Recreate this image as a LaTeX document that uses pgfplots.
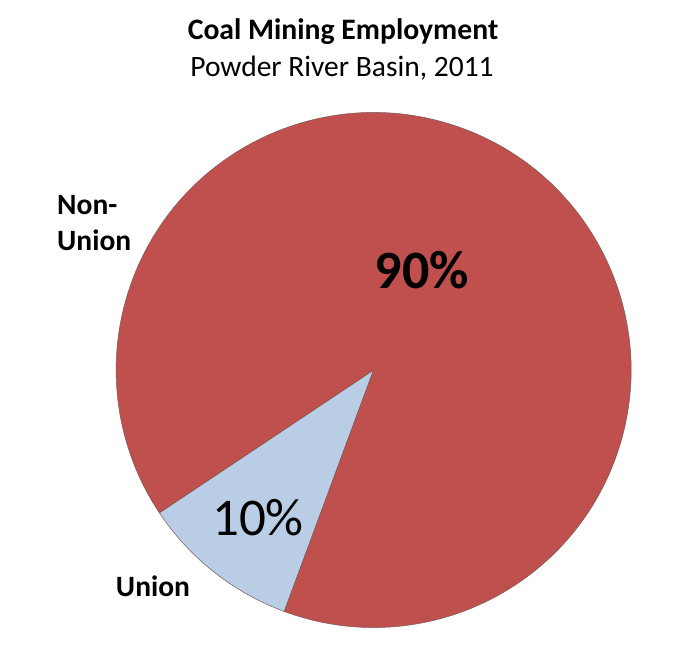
\documentclass[border=0pt]{standalone}
\usepackage{pgfplots}
\pgfplotsset{compat=1.18}
\usepackage{pgfplotstable}
\usepackage{fontspec}
\setmainfont{Carlito}
\definecolor{nonunion}{HTML}{C0504D}
\definecolor{union}{HTML}{B9CDE5}
\definecolor{edge}{HTML}{7A5A5A}
\pgfplotstableread{
label value
Union 10
NonUnion 90
}\piedata
\begin{document}
\begin{tikzpicture}
\pgfplotstablegetelem{0}{value}\of\piedata \let\vU\pgfplotsretval
\pgfplotstablegetelem{1}{value}\of\piedata \let\vN\pgfplotsretval
\pgfmathsetmacro{\startA}{213.7}
\pgfmathsetmacro{\midA}{\startA+3.6*\vU}
\pgfmathsetmacro{\endA}{\midA+3.6*\vN}
\begin{axis}[width=683pt,height=666pt,scale only axis,hide axis,
  xmin=0,xmax=683,ymin=0,ymax=666,clip=false]
\path (axis cs:0,0) rectangle (axis cs:683,666);
\fill[union,draw=edge,line width=0.5pt] (axis cs:373.6,296) -- ++(\startA:257.5pt) arc[start angle=\startA,end angle=\midA,radius=257.5pt] -- cycle;
\fill[nonunion,draw=edge,line width=0.5pt] (axis cs:373.6,296) -- ++(\midA:257.5pt) arc[start angle=\midA,end angle=\endA,radius=257.5pt] -- cycle;
\node[font=\fontsize{29.7}{36}\selectfont\bfseries] at (axis cs:343,634) {Coal Mining Employment};
\node[font=\fontsize{29.5}{36}\selectfont] at (axis cs:342,598) {Powder River Basin, 2011};
\node[font=\fontsize{29.5}{36}\selectfont\bfseries,align=left,anchor=west,inner sep=0pt] at (axis cs:57,443) {Non-\\Union};
\node[font=\fontsize{29.5}{36}\selectfont\bfseries] at (axis cs:153,80) {Union};
\node[font=\fontsize{54}{60}\selectfont\bfseries] at (axis cs:422,396) {90\%};
\node[font=\fontsize{53}{60}\selectfont] at (axis cs:258,148) {10\%};
\end{axis}
\end{tikzpicture}
\end{document}
